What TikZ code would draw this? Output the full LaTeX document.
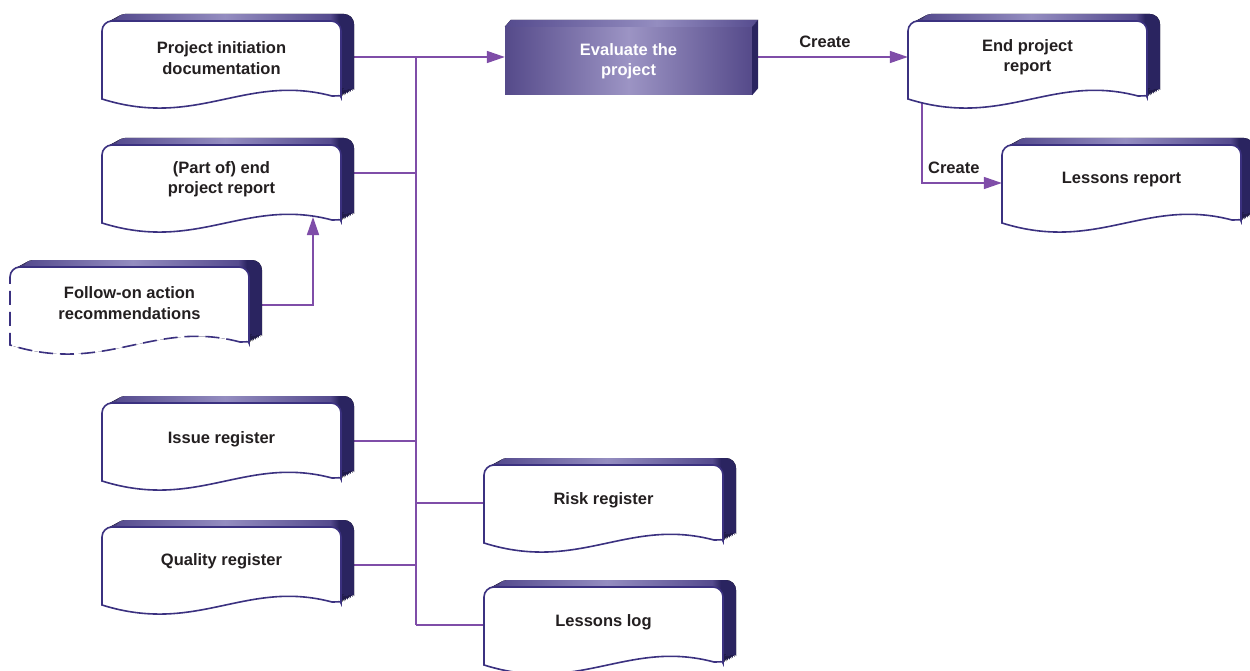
\documentclass[tikz,border=0pt]{standalone}
\usepackage{fontspec}
\setmainfont{Liberation Sans}
\usetikzlibrary{arrows.meta,calc}
\pgfdeclarelayer{bg}
\pgfsetlayers{bg,main}
\definecolor{txt}{HTML}{231F20}
\definecolor{edgec}{HTML}{3B3180}
\definecolor{extL}{HTML}{554B8E}
\definecolor{extM}{HTML}{948DC0}
\definecolor{extD}{HTML}{2A2460}
\definecolor{connc}{HTML}{7F4DA8}
\definecolor{evL}{HTML}{554A8A}
\definecolor{evM}{HTML}{9C94C4}
\pgfdeclarehorizontalshading{docext}{100bp}{color(0bp)=(extL); color(25bp)=(extL); color(48bp)=(extM); color(70bp)=(extL); color(71.8bp)=(extD); color(100bp)=(extD)}
\pgfdeclarehorizontalshading{evtop}{100bp}{color(0bp)=(extL); color(25bp)=(extL); color(55bp)=(extM); color(75bp)=(extL); color(100bp)=(extL)}
\def\W{239}
\def\H{78}
\def\facepath{(0,\H) [rounded corners=10pt] -- (0,0) -- (\W,0) -- (\W,\H-12) [sharp corners] .. controls (\W,\H-4) and (\W-2,\H-3) .. (\W-9,\H-3) .. controls (0.6*\W,\H-26) and (0.4*\W,\H+30) .. (0,\H) -- cycle}
\tikzset{
  doctext/.style={font=\fontsize{16.5}{20.5}\selectfont\bfseries, text=txt, align=center, inner sep=0pt},
  lbl/.style={font=\fontsize{16.5}{20.5}\selectfont\bfseries, text=txt},
  faceedge/.style={draw=edgec, line width=1.6pt},
  anchorbox/.style={draw=none, minimum width=252pt, minimum height=76pt, inner sep=0pt},
  conn/.style={draw=connc, line width=1.6pt},
  arr/.style={-{Triangle[length=18pt,width=12pt]}},
  evalbox/.style={minimum width=247pt, minimum height=68pt, inner sep=0pt, left color=evL, right color=evL, middle color=evM, text=white, font=\fontsize{16.5}{20.5}\selectfont\bfseries, align=center}
}
\newcommand{\docextrude}{%
  \foreach \i in {0,...,8}{\fill[shading=docext,shift={(13*\i/8,-7*\i/8)}] \facepath;}
  \fill[white] \facepath;}
\newcommand{\docbox}[5]{%
  \begin{scope}[shift={(#2,#3)}]
    \docextrude
    \draw[faceedge] \facepath;
    \node[doctext] at (\W/2,#5) {#4};
    \node[anchorbox] (#1) at (126,38) {};
  \end{scope}}
\newcommand{\docboxdashed}[5]{%
  \begin{scope}[shift={(#2,#3)}]
    \docextrude
    \draw[faceedge] (0,10) [rounded corners=10pt] -- (0,0) -- (\W,0) -- (\W,\H-12) [sharp corners] .. controls (\W,\H-4) and (\W-2,\H-3) .. (\W-9,\H-3);
    \draw[faceedge, dash pattern=on 14pt off 7pt] (\W-9,\H-3) .. controls (0.6*\W,\H-26) and (0.4*\W,\H+30) .. (0,\H) -- (0,10);
    \node[doctext] at (\W/2,#5) {#4};
    \node[anchorbox] (#1) at (126,38) {};
  \end{scope}}
\begin{document}
\begin{tikzpicture}[x=1pt,y=-1pt]
\useasboundingbox (0,0) rectangle (1250,671);
\begin{pgfonlayer}{bg}
\fill[white] (0,0) rectangle (1250,671);
\end{pgfonlayer}

% documents
\docbox{pid}{102}{21}{Project initiation\\documentation}{37}
\docbox{part}{102}{145}{(Part of) end\\project report}{34}
\docboxdashed{follow}{10}{267}{Follow-on action\\recommendations}{36}
\docbox{issue}{102}{403}{Issue register}{36}
\docbox{quality}{102}{527}{Quality register}{34}
\docbox{risk}{484}{465}{Risk register}{35}
\docbox{ll}{484}{587}{Lessons log}{35}
\docbox{epr}{908}{21}{End project\\report}{36}
\docbox{lr}{1002}{145}{Lessons report}{35}

% process box
\node[evalbox] (eval) at (628.5,61) {Evaluate the\\project};
\fill[shading=evtop] (eval.north west) -- ++(6,-7) -- ($(eval.north east)+(6,-7)$) -- (eval.north east) -- cycle;
\fill[extD] (eval.north east) -- ++(6,-7) -- ($(eval.south east)+(6,-7)$) -- (eval.south east) -- cycle;

% connectors
\coordinate (trunk) at (416,57);
\coordinate (p1) at ([yshift=2pt]pid.east);
\coordinate (p2) at ([yshift=10pt]part.east);
\coordinate (e1) at ([xshift=5pt,yshift=4pt]eval.east);
\coordinate (partin) at (313,217);
\coordinate (eprout) at ([xshift=14pt]epr.south west);
\begin{pgfonlayer}{bg}
\draw[conn,arr] (p1) -- (p1 -| eval.west);
\draw[conn] (p1 -| trunk) -- (ll.west -| trunk);
\draw[conn] (p2) -- (p2 -| trunk);
\draw[conn] (issue.east) -- (issue.east -| trunk);
\draw[conn] (quality.east) -- (quality.east -| trunk);
\draw[conn] (trunk |- risk.west) -- (risk.west);
\draw[conn] (trunk |- ll.west) -- (ll.west);
\draw[conn,arr] (follow.east) -| (partin);
\draw[conn,arr] (e1) -- node[lbl, pos=0.45, above=5pt] {Create} (e1 -| epr.west);
\draw[conn,arr] (eprout) |- node[lbl, pos=0.7, above=5pt] {Create} (lr.west);
\end{pgfonlayer}
\end{tikzpicture}
\end{document}
